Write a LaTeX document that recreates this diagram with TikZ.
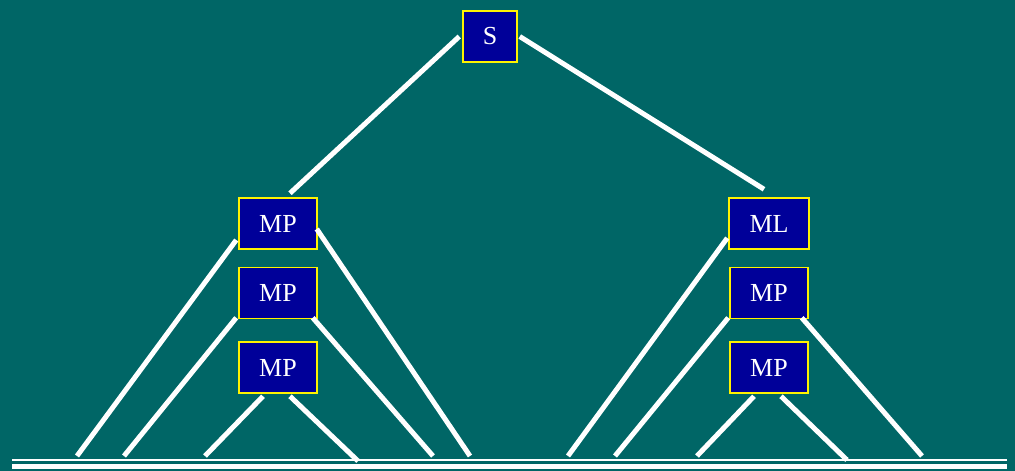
\documentclass[tikz,border=0pt]{standalone}
\usepackage{fontspec}
\setmainfont{Liberation Serif}
\usepackage{xcolor}
\usepackage{tikz}
\usetikzlibrary{positioning}

\definecolor{slidebg}{RGB}{0,102,102}
\definecolor{boxblue}{RGB}{0,0,153}

\begin{document}
\begin{tikzpicture}[x=1pt, y=-1pt,
    block/.style={rectangle, draw=yellow, line width=1.5pt, fill=boxblue, text=white, minimum width=78pt, minimum height=51pt, inner sep=0pt, font=\fontsize{26}{30}\selectfont},
    line/.style={draw, white, line width=5pt}]

    % background
    \fill [slidebg] (0,0) rectangle (1015,471);

    \node [block, minimum width=54pt] (s) at (490,36.5) {S};
    \node [block] (mpa) at (278,223.5) {MP};
    \node [block, below=17pt of mpa] (mpb) {MP};
    \node [block, below=22pt of mpb] (mpc) {MP};
    \node [block, minimum width=80pt] (ml) at (769,223.5) {ML};
    \node [block, below=17pt of ml] (mpd) {MP};
    \node [block, below=22pt of mpd] (mpe) {MP};

    % free ends on the base line
    \coordinate (la) at (77,456);
    \coordinate (lb) at (470,456);
    \coordinate (lc) at (124,456);
    \coordinate (ld) at (433,456);
    \coordinate (le) at (205,456);
    \coordinate (lf) at (358,461);
    \coordinate (ra) at (568,456);
    \coordinate (rb) at (615,456);
    \coordinate (rc) at (922,456);
    \coordinate (rd) at (697,456);
    \coordinate (re) at (847,460);

    \path [line] ([xshift=-3pt]s.west) -- ([shift={(12,-4)}]mpa.north);
    \path [line] ([xshift=2pt]s.east) -- ([shift={(-5,-8)}]ml.north);

    \path [line] ([shift={(-2,16.5)}]mpa.west) -- (la);
    \path [line] ([shift={(-1,5.5)}]mpa.east) -- (lb);
    \path [line] ([shift={(-2,-1.5)}]mpb.south west) -- (lc);
    \path [line] ([shift={(-5,-1.5)}]mpb.south east) -- (ld);
    \path [line] ([shift={(-15,2.5)}]mpc.south) -- (le);
    \path [line] ([shift={(12,2.5)}]mpc.south) -- (lf);

    \path [line] ([shift={(-1,14.5)}]ml.west) -- (ra);
    \path [line] ([shift={(-1,-1.5)}]mpd.south west) -- (rb);
    \path [line] ([shift={(-7,-1.5)}]mpd.south east) -- (rc);
    \path [line] ([shift={(-15,2.5)}]mpe.south) -- (rd);
    \path [line] ([shift={(12,2.5)}]mpe.south) -- (re);

    % base line
    \draw [white, line width=2pt] (12,460.3) -- (1007,460.3);
    \draw [white, line width=4.5pt] (12,466.7) -- (1007,466.7);
\end{tikzpicture}
\end{document}
